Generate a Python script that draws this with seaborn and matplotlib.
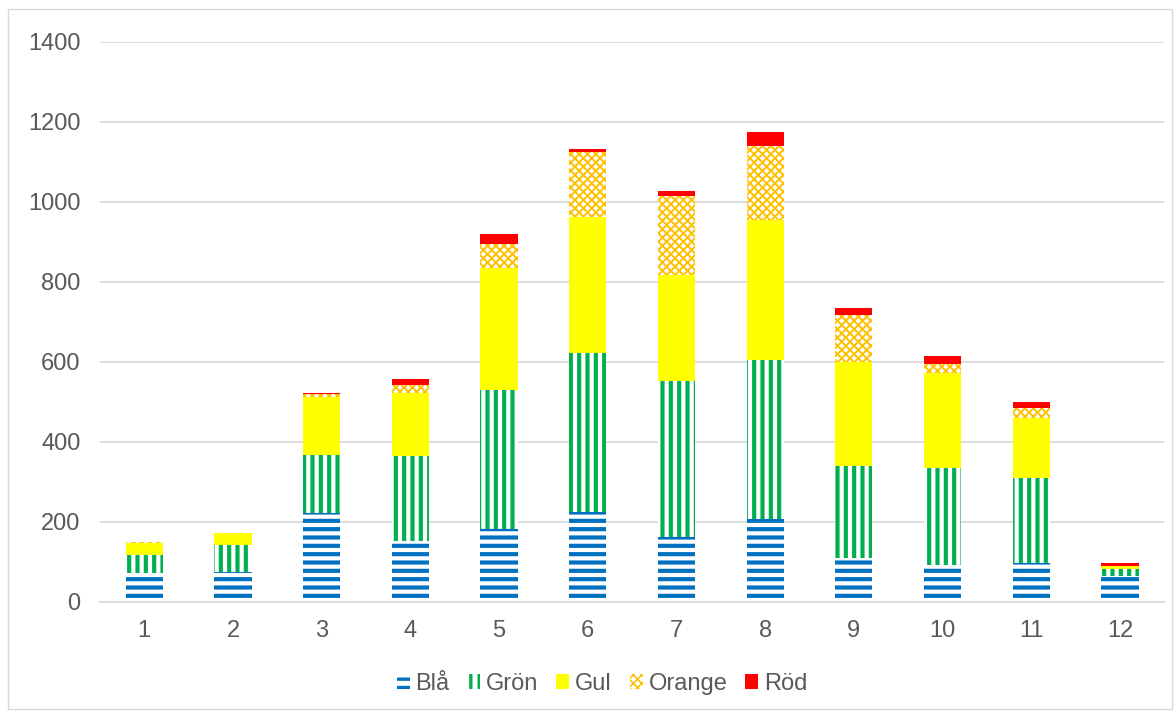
import numpy as np
import pandas as pd
import matplotlib.pyplot as plt
import seaborn as sns
from matplotlib.patches import Patch, Rectangle

# values
months = ['1', '2', '3', '4', '5', '6', '7', '8', '9', '10', '11', '12']
bla = [72, 75, 222, 152, 182, 225, 162, 207, 110, 92, 97, 65]
gron = [45, 67, 145, 213, 348, 397, 390, 398, 230, 243, 213, 17]
gul = [30, 30, 145, 157, 305, 340, 265, 350, 260, 237, 150, 8]
orange = [3, 0, 8, 20, 60, 163, 198, 185, 117, 23, 25, 0]
rod = [0, 0, 2, 15, 25, 7, 12, 35, 18, 20, 15, 7]

series = [
    ('Blå', bla, '#0070c0', '--', 3.0),
    ('Grön', gron, '#00b050', '||', 3.0),
    ('Gul', gul, '#ffff00', None, 0),
    ('Orange', orange, '#ffc000', 'xxxx', 1.4),
    ('Röd', rod, '#ff0000', None, 0),
]

sns.set_style('white')
plt.rcParams['font.family'] = ['Liberation Sans', 'DejaVu Sans']

fig = plt.figure(figsize=(11.76, 7.13), dpi=100)
ax = fig.add_axes([0.085, 0.1557, 0.905, 0.7854])


def set_hlw(patches, lw):
    for p in patches:
        if hasattr(p, 'set_hatch_linewidth'):
            p.set_hatch_linewidth(lw)


bottom = np.zeros(len(months))
handles = []
for name, vals, col, hatch, hlw in series:
    df = pd.DataFrame({'month': months, 'value': vals})
    plt.rcParams['hatch.linewidth'] = hlw if hatch else 1.0
    n_before = len(ax.patches)
    if hatch:
        sns.barplot(data=df, x='month', y='value', bottom=bottom, ax=ax,
                    color='white', saturation=1, width=0.42,
                    edgecolor=col, linewidth=0, hatch=hatch)
        set_hlw(ax.patches[n_before:], hlw)
        h = Patch(facecolor='white', edgecolor=col, linewidth=0,
                  hatch=hatch, label=name)
    else:
        sns.barplot(data=df, x='month', y='value', bottom=bottom, ax=ax,
                    color=col, saturation=1, width=0.42, linewidth=0)
        h = Patch(facecolor=col, linewidth=0, label=name)
    handles.append(h)
    bottom = bottom + np.array(vals)

ax.set_ylim(0, 1400)
ax.set_yticks(range(0, 1401, 200))
ax.set_xlim(-0.5, 11.5)
ax.set_xlabel('')
ax.set_ylabel('')
ax.yaxis.grid(True, color='#d9d9d9', linewidth=1.3)
ax.set_axisbelow(True)
for s in ['left', 'right', 'top']:
    ax.spines[s].set_visible(False)
ax.spines['bottom'].set_color('#d9d9d9')
ax.spines['bottom'].set_linewidth(1.3)
ax.tick_params(axis='both', colors='#595959', labelsize=17, length=0)
ax.tick_params(axis='x', pad=13)
ax.tick_params(axis='y', pad=14)

leg = fig.legend(handles=handles, loc='center', bbox_to_anchor=(0.512, 0.041), ncol=5,
                 frameon=False, fontsize=17, handlelength=0.55, handleheight=0.55,
                 handletextpad=0.25, columnspacing=0.75, labelcolor='#595959')
for p, (_, _, _, hatch, hlw) in zip(leg.get_patches(), series):
    if hatch:
        set_hlw([p], hlw * 0.8)

fig.patches.append(Rectangle((0.007, 0.006), 0.99, 0.982, transform=fig.transFigure,
                             fill=False, edgecolor='#d9d9d9', linewidth=1.0))

fig.savefig('out.png', dpi=100)
